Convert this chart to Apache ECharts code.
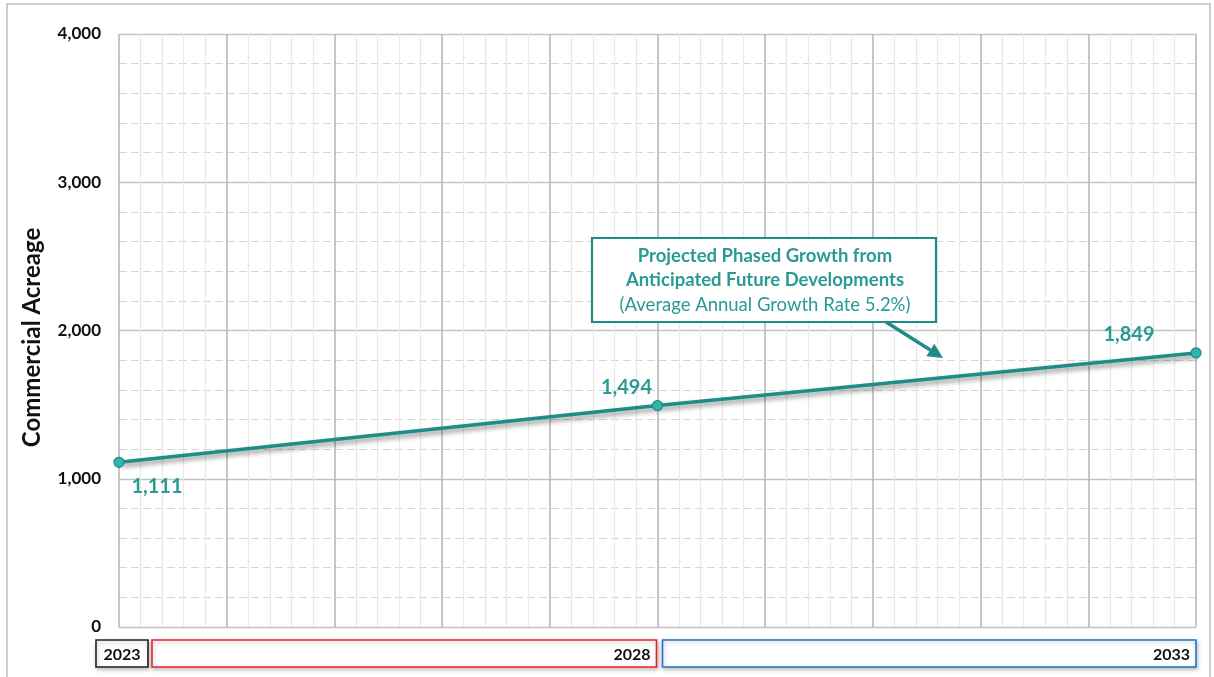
<!DOCTYPE html>
<html>
<head>
<meta charset="utf-8">
<script src="https://cdn.jsdelivr.net/npm/echarts@6/dist/echarts.min.js"></script>
<style>
html,body{margin:0;padding:0;background:#fff;}
#chart{width:1214px;height:677px;}
</style>
</head>
<body>
<div id="chart"></div>
<script>
const years = [2023, 2028, 2033];
const acreage = [1111, 1494, 1849];
const yTicks = [0, 1000, 2000, 3000, 4000];
const phaseLabels = ['2023', '2028', '2033'];
const annotationLines = ['Projected Phased Growth from', 'Anticipated Future Developments', '(Average Annual Growth Rate 5.2%)'];
const axisTitle = 'Commercial Acreage';

const TEAL = '#1f8c87';
const LABEL = '#2a9a94';
const FONT = 'Lato, "Open Sans", sans-serif';

const chart = echarts.init(document.getElementById('chart'));

const labelPos = [
  {position: 'bottom', offset: [38, 4]},
  {position: 'top', offset: [-31, 3]},
  {position: 'top', offset: [-67, 2]}
];

chart.setOption({
  animation: false,
  grid: {left: 119, right: 18, top: 34, bottom: 50},
  xAxis: {
    type: 'value', min: years[0], max: years[years.length - 1], interval: 1,
    axisLine: {show: false}, axisTick: {show: false}, axisLabel: {show: false},
    splitLine: {show: true, lineStyle: {color: '#b8b8b8', width: 1.6}},
    minorTick: {show: false, splitNumber: 5},
    minorSplitLine: {show: true, lineStyle: {color: '#e8e8e8', width: 1.2}}
  },
  yAxis: {
    type: 'value', min: yTicks[0], max: yTicks[yTicks.length - 1], interval: 1000,
    name: axisTitle, nameLocation: 'middle', nameGap: 75, nameRotate: 90,
    nameTextStyle: {fontFamily: FONT, fontWeight: 'bold', fontSize: 24, color: '#111', padding: [0, 14, 0, 0]},
    axisLine: {show: false}, axisTick: {show: false},
    axisLabel: {
      fontFamily: FONT, fontWeight: 'bold', fontSize: 17, color: '#111', margin: 18,
      formatter: v => v.toLocaleString('en-US')
    },
    splitLine: {show: true, lineStyle: {color: '#c4c4c4', width: 1.4}},
    minorTick: {show: false, splitNumber: 5},
    minorSplitLine: {show: true, lineStyle: {color: '#d6d6d6', width: 1.2, type: [8, 4]}}
  },
  series: [{
    type: 'line',
    data: years.map((y, i) => ({
      value: [y, acreage[i]],
      label: {show: true, position: labelPos[i].position, offset: labelPos[i].offset}
    })),
    symbol: 'circle', symbolSize: 10,
    itemStyle: {color: '#2fb5ae', borderColor: '#1a8882', borderWidth: 1.2},
    lineStyle: {color: TEAL, width: 3.5, shadowColor: 'rgba(0,0,0,0.45)', shadowBlur: 5, shadowOffsetX: 3, shadowOffsetY: 3},
    label: {
      fontFamily: FONT, fontWeight: 'bold', fontSize: 20, color: LABEL,
      formatter: p => p.value[1].toLocaleString('en-US')
    },
    z: 5
  }]
});

function buildGraphics() {
  const px = v => chart.convertToPixel({gridIndex: 0}, [v, 0]);
  const x0 = px(years[0])[0], x1 = px(years[1])[0], x2 = px(years[2])[0];
  const yBase = px(years[0])[1];
  const by = yBase + 13, bh = 27;
  const shadow = {shadowColor: 'rgba(0,0,0,0.25)', shadowBlur: 4, shadowOffsetX: 1, shadowOffsetY: 2};
  const boxes = [
    {x: x0 - 23, w: 52, color: '#222222', text: phaseLabels[0], align: 'center'},
    {x: x0 + 33, w: x1 - x0 - 34, color: '#e8232b', text: phaseLabels[1], align: 'right'},
    {x: x1 + 5, w: x2 - x1 - 5, color: '#1f77c8', text: phaseLabels[2], align: 'right'}
  ];
  const els = [];
  boxes.forEach(b => {
    els.push({
      type: 'rect', shape: {x: b.x, y: by, width: b.w, height: bh},
      style: Object.assign({fill: '#fff', stroke: b.color, lineWidth: 1.6}, shadow), z: 10
    });
    els.push({
      type: 'text',
      style: {
        x: b.align === 'center' ? b.x + b.w / 2 : b.x + b.w - 6, y: by + bh / 2 + 1,
        text: b.text, align: b.align, verticalAlign: 'middle',
        font: 'bold 16px ' + FONT, fill: '#111'
      }, z: 11
    });
  });
  // annotation box
  const ax = 592, ay = 238, aw = 344, ah = 84;
  els.push({
    type: 'rect', shape: {x: ax, y: ay, width: aw, height: ah},
    style: {fill: '#fff', stroke: TEAL, lineWidth: 2.2}, z: 20
  });
  const fonts = ['bold 18.5px ' + FONT, 'bold 18.5px ' + FONT, '18.5px ' + FONT];
  annotationLines.forEach((t, i) => {
    els.push({
      type: 'text',
      style: {x: ax + aw / 2 + 1, y: ay + 18 + i * 24.5, text: t, align: 'center', verticalAlign: 'middle', font: fonts[i], fill: LABEL},
      z: 21
    });
  });
  // arrow
  const sx = 886, sy = 322, tx = 943, ty = 358;
  const dx = tx - sx, dy = ty - sy, len = Math.hypot(dx, dy);
  const ux = dx / len, uy = dy / len;
  const hl = 15, hw = 7.5;
  const bx = tx - ux * hl, byy = ty - uy * hl;
  els.push({type: 'line', shape: {x1: sx, y1: sy, x2: bx, y2: byy}, style: {stroke: TEAL, lineWidth: 3.5}, z: 20});
  els.push({
    type: 'polygon',
    shape: {points: [[tx, ty], [bx - uy * hw, byy + ux * hw], [bx + uy * hw, byy - ux * hw]]},
    style: {fill: TEAL}, z: 20
  });
  // outer frame
  els.push({type: 'rect', shape: {x: 7, y: 4, width: 1203, height: 700}, style: {fill: 'none', stroke: '#bdbdbd', lineWidth: 1.5}, z: 1});
  chart.setOption({graphic: {elements: els}});
}
buildGraphics();
</script>
</body>
</html>
